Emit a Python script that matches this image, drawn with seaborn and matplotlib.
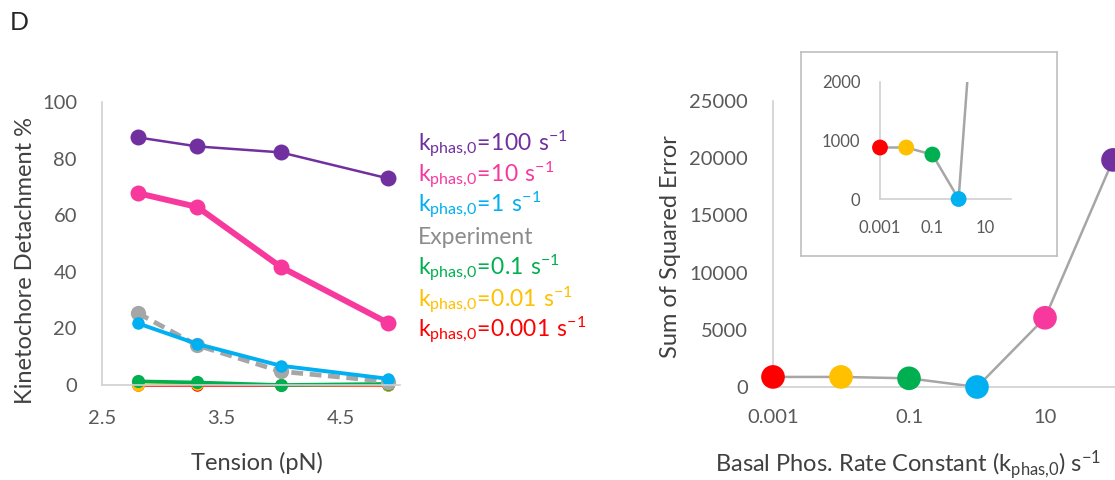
import numpy as np
import pandas as pd
import matplotlib
matplotlib.use("Agg")
import matplotlib.pyplot as plt
import seaborn as sns

# --- data: left panel (detachment vs tension) ---
tension = [2.8, 3.3, 4.0, 4.9]
k100 = [87.5, 84.3, 82.2, 73.0]
k10 = [67.8, 62.9, 41.7, 21.9]
k1 = [21.8, 14.5, 6.8, 2.2]
experiment = [25.4, 14.0, 4.8, 1.2]
k01 = [1.3, 0.9, 0.0, 0.4]
k001 = [0.0, 0.5, 0.0, 0.0]
k0001 = [0.0, 0.0, 0.0, 0.0]

# --- data: right panel (SSE vs basal rate) ---
kphas = [0.001, 0.01, 0.1, 1, 10, 100]
sse = [880, 880, 760, 0, 6050, 19850]

x_ticks_left = [2.5, 3.5, 4.5]
y_ticks_left = [0, 20, 40, 60, 80, 100]
x_ticks_right = [0.001, 0.1, 10]
x_tick_labels_right = ["0.001", "0.1", "10"]
y_ticks_right = [0, 5000, 10000, 15000, 20000, 25000]
y_ticks_inset = [0, 1000, 2000]

PURPLE = "#7030A0"
PINK = "#F7399E"
BLUE = "#00B0F0"
GRAY = "#A6A6A6"
GREEN = "#00B050"
YELLOW = "#FFC000"
RED = "#FF0000"
sse_colors = [RED, YELLOW, GREEN, BLUE, PINK, PURPLE]

sns.set_theme(style="white")
plt.rcParams["font.family"] = ["Lato", "DejaVu Sans"]
plt.rcParams["mathtext.fontset"] = "custom"
plt.rcParams["mathtext.rm"] = "Lato"
TXT = "#404040"
TICK = "#595959"
SPINE = "#D0D0D0"
LABEL_SIZE = 17

fig = plt.figure(figsize=(11.15, 4.8), dpi=100)
W, H = 1115, 480


def px_axes(x0, x1, y_top, y_bot):
    return fig.add_axes([x0 / W, 1 - y_bot / H, (x1 - x0) / W, (y_bot - y_top) / H])


def style_axes(ax, size, xpad, ypad):
    for s in ["top", "right"]:
        ax.spines[s].set_visible(False)
    for s in ["left", "bottom"]:
        ax.spines[s].set_color(SPINE)
        ax.spines[s].set_linewidth(1.2)
    ax.tick_params(axis="both", length=0, labelsize=size, colors=TICK)
    ax.tick_params(axis="x", pad=xpad)
    ax.tick_params(axis="y", pad=ypad)
    ax.grid(False)


# --- left panel ---
ax1 = px_axes(102, 400, 102, 385)
series = [
    (k0001, RED, 1.8, 9, "-"),
    (k001, YELLOW, 1.8, 9, "-"),
    (k01, GREEN, 2.6, 9.5, "-"),
    (experiment, GRAY, 3.4, 11, (0, (2.5, 1.4))),
    (k1, BLUE, 2.8, 9, "-"),
    (k10, PINK, 4.3, 11.5, "-"),
    (k100, PURPLE, 1.8, 11.5, "-"),
]
for vals, col, lw, ms, ls in series:
    sns.lineplot(x=tension, y=vals, ax=ax1, color=col, linewidth=lw, linestyle=ls,
                 marker="o", markersize=ms, markeredgewidth=0, clip_on=False)
ax1.set_xlim(2.5, 5.0)
ax1.set_ylim(0, 100)
ax1.set_xticks(x_ticks_left)
ax1.set_xticklabels([str(v) for v in x_ticks_left])
ax1.set_yticks(y_ticks_left)
style_axes(ax1, 14.5, 18, 18)
ax1.set_xlabel("Tension (pN)", fontsize=LABEL_SIZE, color=TXT)
ax1.set_ylabel("Kinetochore Detachment %", fontsize=LABEL_SIZE, color=TXT)
ax1.xaxis.set_label_coords(0.52, -0.235)
ax1.yaxis.set_label_coords(-0.222, 0.44)

# legend as coloured text
legend_rows = [
    (r"$\mathregular{k_{phas{,}0}\!=\!100\ s^{-1}}$", PURPLE, 144),
    (r"$\mathregular{k_{phas{,}0}\!=\!10\ s^{-1}}$", PINK, 175),
    (r"$\mathregular{k_{phas{,}0}\!=\!1\ s^{-1}}$", BLUE, 205),
    ("Experiment", "#8C8C8C", 238),
    (r"$\mathregular{k_{phas{,}0}\!=\!0.1\ s^{-1}}$", GREEN, 268),
    (r"$\mathregular{k_{phas{,}0}\!=\!0.01\ s^{-1}}$", YELLOW, 300),
    (r"$\mathregular{k_{phas{,}0}\!=\!0.001\ s^{-1}}$", RED, 330),
]
for label, col, y in legend_rows:
    fig.text(418 / W, 1 - y / H, label, color=col, fontsize=16.5, va="center", ha="left")

fig.text(10 / W, 1 - 22 / H, "D", fontsize=18, color="#262626", va="center", ha="left")

# --- right panel ---
ax2 = px_axes(773, 773 + 6 * 68, 101, 387)
sns.lineplot(x=kphas, y=sse, ax=ax2, color=GRAY, linewidth=1.8, clip_on=False)
sns.scatterplot(x=kphas, y=sse, ax=ax2, hue=kphas, palette=sse_colors, legend=False,
                s=290, linewidth=0, clip_on=False, zorder=3)
ax2.set_xscale("log")
ax2.set_xlim(1e-3, 1e3)
ax2.set_ylim(0, 25000)
ax2.set_xticks(x_ticks_right)
ax2.set_xticklabels(x_tick_labels_right)
ax2.minorticks_off()
ax2.set_yticks(y_ticks_right)
style_axes(ax2, 14.5, 16, 18)
ax2.set_xlabel(r"Basal Phos. Rate Constant ($\mathregular{k_{phas{,}0}}$) $\mathregular{s^{-1}}$",
               fontsize=LABEL_SIZE, color=TXT)
ax2.set_ylabel("Sum of Squared Error", fontsize=LABEL_SIZE, color=TXT)
ax2.xaxis.set_label_coords(0.331, -0.215)
ax2.yaxis.set_label_coords(-0.225, 0.49)

# --- inset frame and inset ---
frame = px_axes(801, 1057, 52, 256)
frame.set_xticks([])
frame.set_yticks([])
frame.patch.set_facecolor("white")
for s in frame.spines.values():
    s.set_color("#BFBFBF")
    s.set_linewidth(1.2)

ax3 = px_axes(880, 880 + 5 * 26.2, 82, 199)
ax3.patch.set_alpha(0)
sns.lineplot(x=kphas, y=sse, ax=ax3, color=GRAY, linewidth=1.8)
low_x = [k for k, v in zip(kphas, sse) if v <= 2000]
low_y = [v for v in sse if v <= 2000]
sns.scatterplot(x=low_x, y=low_y, ax=ax3, hue=low_x, palette=sse_colors[:len(low_x)],
                legend=False, s=130, linewidth=0, clip_on=False, zorder=3)
ax3.set_xscale("log")
ax3.set_xlim(1e-3, 1e2)
ax3.set_ylim(0, 2000)
ax3.set_xticks(x_ticks_right)
ax3.set_xticklabels(x_tick_labels_right)
ax3.minorticks_off()
ax3.set_yticks(y_ticks_inset)
style_axes(ax3, 12, 15, 14)
ax3.set_xlabel("")
ax3.set_ylabel("")

fig.savefig("out.png", dpi=100)
